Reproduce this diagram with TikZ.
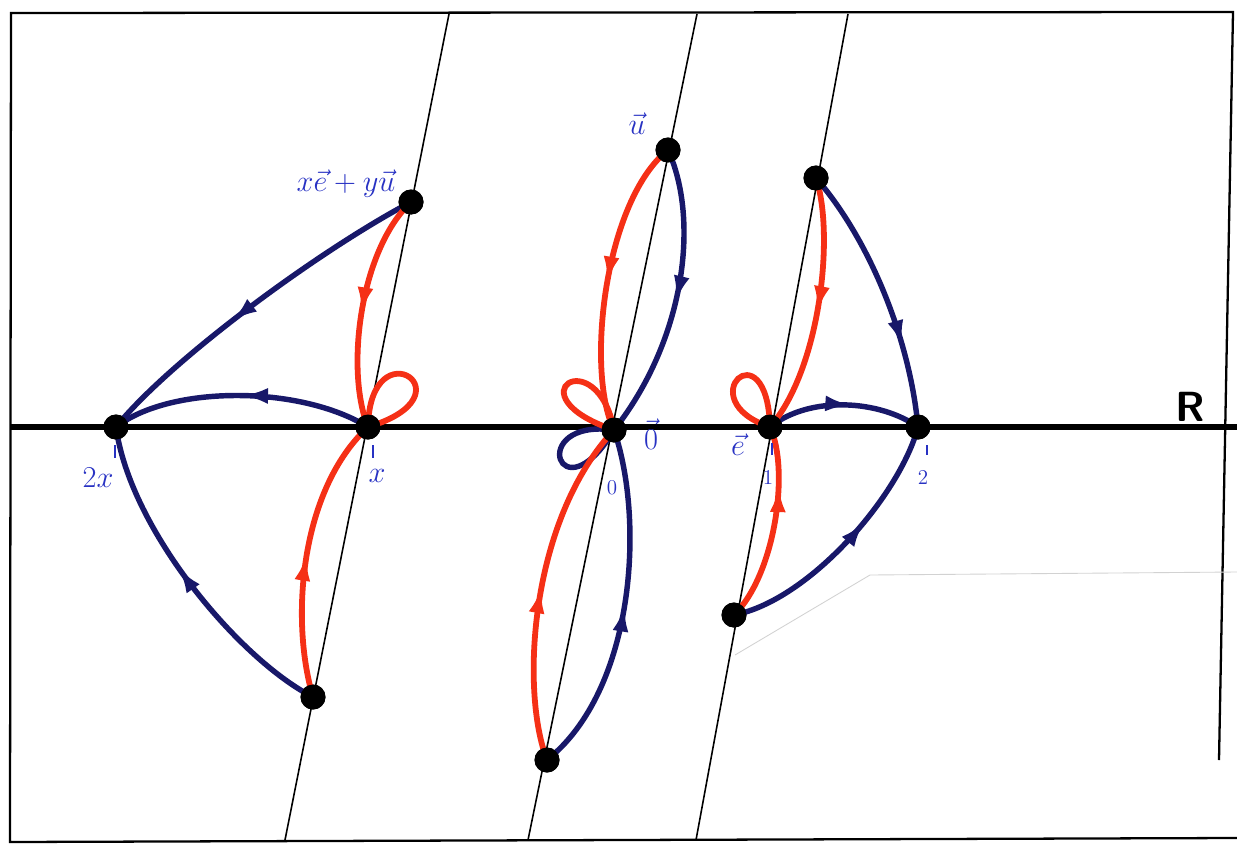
\documentclass[tikz,border=0pt]{standalone}
\usetikzlibrary{arrows.meta,decorations.markings}
\definecolor{pen}{RGB}{24,24,105}
\definecolor{ink}{RGB}{245,48,22}
\definecolor{lab}{RGB}{40,50,195}
\tikzset{
  dot/.style={circle,fill=black,inner sep=0pt,minimum size=0.5cm},
  blueedge/.style={draw=pen,line width=3.1pt,line cap=round},
  rededge/.style={draw=ink,line width=3.3pt,line cap=round},
  midarrow/.style={postaction={decorate},decoration={markings,mark=at position #1 with {\arrow{Latex[length=15pt,width=9pt]}}}},
  lbl/.style={text=lab,font=\fontsize{19}{22}\selectfont,inner sep=0pt},
  tick/.style={draw=lab,line width=1.5pt},
  thinline/.style={draw=black,line width=0.9pt},
}
\begin{document}
\begin{tikzpicture}[x=0.02cm,y=-0.02cm]
\useasboundingbox (0,0) rectangle (1237,845);
% frame
\draw[line width=1.3pt] (1219,760) -- (1233,12) -- (11,13) -- (10,842) -- (1237,838);
% faint scan edge
\draw[gray!35,line width=0.5pt] (735,655) -- (870,575) -- (1237,572);
% slanted lines
\coordinate (L1t) at (449,14); \coordinate (L1b) at (285,840);
\coordinate (L2t) at (697,14); \coordinate (L2b) at (528,840);
\coordinate (L3t) at (848,14); \coordinate (L3b) at (696,840);
\draw[thinline] (L1t) -- (L1b);
\draw[thinline] (L2t) -- (L2b);
\draw[thinline] (L3t) -- (L3b);
% axis
\coordinate (Rl) at (11,427); \coordinate (Rr) at (1237,427);
\draw[line width=3.4pt] (Rl) -- (Rr);
% nodes
\node[dot] (A) at (411,202) {};
\node[dot] (X) at (368,427) {};
\node[dot] (X2) at (116,427) {};
\node[dot] (P) at (313,697) {};
\node[dot] (U) at (668,150) {};
\node[dot] (O) at (614,430) {};
\node[dot] (Q) at (547,760) {};
\node[dot] (E) at (770,427) {};
\node[dot] (T) at (918,427) {};
\node[dot] (V) at (816,178) {};
\node[dot] (S) at (734,615) {};
% blue edges
\path[blueedge,midarrow=0.58] (A.center) .. controls (320,250) and (170,360) .. (X2.center);
\path[blueedge,midarrow=0.5] (X.center) .. controls (300,385) and (170,385) .. (X2.center);
\path[blueedge,midarrow=0.55] (P.center) .. controls (240,660) and (130,530) .. (X2.center);
\path[blueedge,midarrow=0.52] (U.center) .. controls (700,220) and (685,340) .. (O.center);
\path[blueedge,midarrow=0.5] (Q.center) .. controls (635,690) and (645,520) .. (O.center);
\path[blueedge] (O.center) .. controls (525,418) and (560,520) .. (O.center);
\path[blueedge,midarrow=0.55] (E.center) .. controls (810,395) and (880,400) .. (T.center);
\path[blueedge,midarrow=0.7] (V.center) .. controls (870,240) and (910,340) .. (T.center);
\path[blueedge,midarrow=0.6] (S.center) .. controls (810,600) and (900,495) .. (T.center);
% red edges
\path[rededge,midarrow=0.52] (A.center) .. controls (360,250) and (345,370) .. (X.center);
\path[rededge] (X.center) .. controls (370,325) and (475,395) .. (X.center);
\path[rededge,midarrow=0.5] (P.center) .. controls (290,620) and (300,490) .. (X.center);
\path[rededge,midarrow=0.5] (U.center) .. controls (605,200) and (585,370) .. (O.center);
\path[rededge] (O.center) .. controls (597,340) and (510,395) .. (O.center);
\path[rededge,midarrow=0.5] (Q.center) .. controls (520,690) and (530,520) .. (O.center);
\path[rededge,midarrow=0.52] (V.center) .. controls (835,235) and (820,370) .. (E.center);
\path[rededge] (E.center) .. controls (767,325) and (688,400) .. (E.center);
\path[rededge,midarrow=0.7] (S.center) .. controls (775,575) and (790,470) .. (E.center);
% redraw dots on top
\foreach \n in {A,X,X2,P,U,O,Q,E,T,V,S} \fill (\n) circle (0.25cm);
% ticks
\draw[tick] (115,445) -- (115,458);
\draw[tick] (373,445) -- (373,458);
\draw[tick] (772,443) -- (772,455);
\draw[tick] (927,445) -- (927,455);
% labels
\node[lbl] (lA) at (346,184) {$x\vec{e}+y\vec{u}$};
\node[lbl] (lU) at (637,124) {$\vec{u}$};
\node[lbl] (lX2) at (98,478) {$2x$};
\node[lbl] (lX) at (377,476) {$x$};
\node[lbl,font=\fontsize{12}{14}\selectfont] (lO) at (612,488) {$0$};
\node[lbl] (lOv) at (651,438) {$\vec{\mathstrut 0}$};
\node[lbl] (lE) at (738,445) {$\vec{e}$};
\node[lbl,font=\fontsize{13}{15}\selectfont] (l1) at (768,478) {$1$};
\node[lbl,font=\fontsize{13}{15}\selectfont] (l2) at (923,478) {$2$};
\node[font=\fontsize{24}{28}\selectfont\sffamily\bfseries,inner sep=0pt] (lR) at (1190,407) {R};
\end{tikzpicture}
\end{document}
